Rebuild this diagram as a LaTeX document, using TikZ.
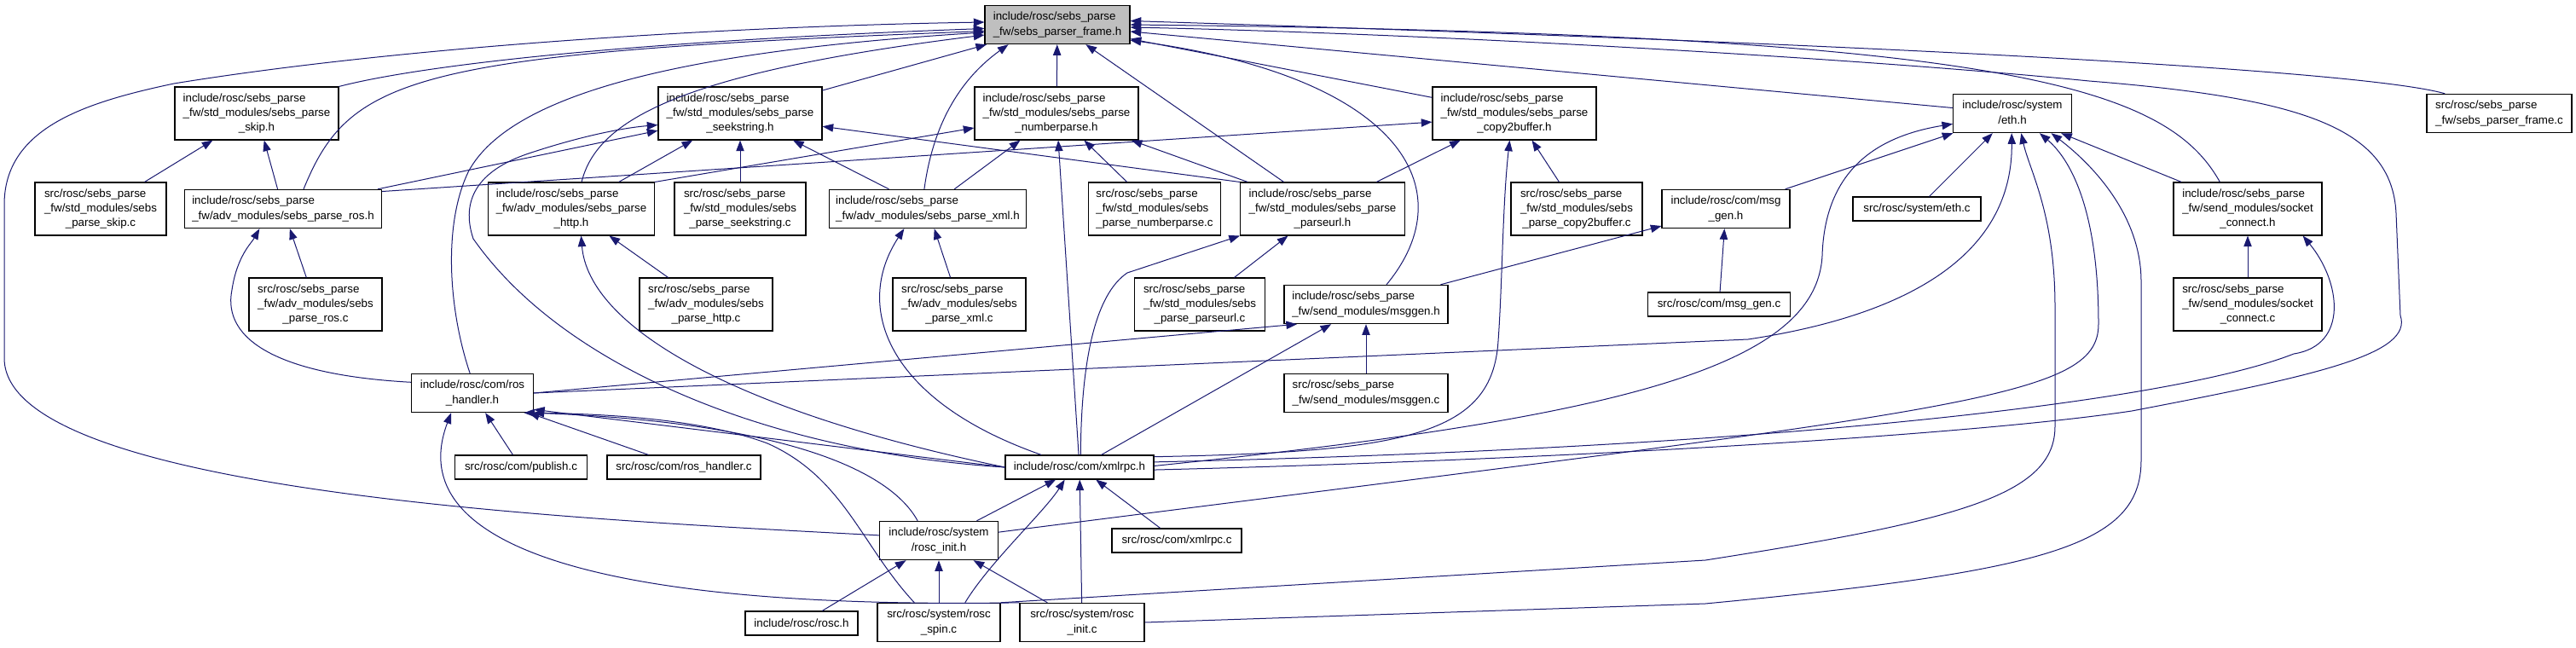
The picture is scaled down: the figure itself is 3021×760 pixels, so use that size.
\documentclass[tikz,border=0pt]{standalone}
\usepackage{fontspec}
\setmainfont{Liberation Sans}
\usepackage{tikz}
\usetikzlibrary{arrows.meta}

\definecolor{edgeblue}{RGB}{25,25,112}
\definecolor{curgray}{RGB}{191,191,191}
\newcommand{\lbltwo}[2]{\begin{tabular}{@{}l@{}}#1\\\multicolumn{1}{@{}c@{}}{#2}\end{tabular}}
\newcommand{\lblthree}[3]{\begin{tabular}{@{}l@{}}#1\\#2\\\multicolumn{1}{@{}c@{}}{#3}\end{tabular}}

\begin{document}
\begin{tikzpicture}[x=0.75pt, y=-0.75pt, >={Triangle[length=9.5pt,width=7pt]},
  file/.style={draw, fill=white, line width=0.8pt, inner sep=0pt, font=\fontsize{10}{13}\selectfont},
  oneline/.style={file, minimum height=21pt},
  twoline/.style={file, minimum height=34pt},
  threeline/.style={file, minimum height=46.5pt},
  dep/.style={->, draw=edgeblue, line width=0.75pt}]
  \useasboundingbox (0,0) rectangle (3021,760);

  % Files
  \node[twoline, fill=curgray, minimum width=127.5pt] (frame) at (1240,29) {\lbltwo{include/rosc/sebs\_parse}{\_fw/sebs\_parser\_frame.h}};

  \node[threeline, minimum width=144pt] (skiph) at (301,133) {\lblthree{include/rosc/sebs\_parse}{\_fw/std\_modules/sebs\_parse}{\_skip.h}};
  \node[threeline, minimum width=144pt] (seekh) at (868,133) {\lblthree{include/rosc/sebs\_parse}{\_fw/std\_modules/sebs\_parse}{\_seekstring.h}};
  \node[threeline, minimum width=144pt] (numh) at (1239,133) {\lblthree{include/rosc/sebs\_parse}{\_fw/std\_modules/sebs\_parse}{\_numberparse.h}};
  \node[threeline, minimum width=144pt] (copyh) at (1776,133) {\lblthree{include/rosc/sebs\_parse}{\_fw/std\_modules/sebs\_parse}{\_copy2buffer.h}};
  \node[twoline, minimum width=104pt] (ethh) at (2360,133) {\lbltwo{include/rosc/system}{/eth.h}};
  \node[twoline, minimum width=127.5pt] (framec) at (2931,133) {\lbltwo{src/rosc/sebs\_parse}{\_fw/sebs\_parser\_frame.c}};

  \node[threeline, minimum width=115.5pt] (skipc) at (118,245) {\lblthree{src/rosc/sebs\_parse}{\_fw/std\_modules/sebs}{\_parse\_skip.c}};
  \node[twoline, minimum width=173.25pt] (rosh) at (332,245) {\lbltwo{include/rosc/sebs\_parse}{\_fw/adv\_modules/sebs\_parse\_ros.h}};
  \node[threeline, minimum width=146pt] (httph) at (670,245) {\lblthree{include/rosc/sebs\_parse}{\_fw/adv\_modules/sebs\_parse}{\_http.h}};
  \node[threeline, minimum width=115.5pt] (seekc) at (868,245) {\lblthree{src/rosc/sebs\_parse}{\_fw/std\_modules/sebs}{\_parse\_seekstring.c}};
  \node[twoline, minimum width=173.25pt] (xmlh) at (1088,245) {\lbltwo{include/rosc/sebs\_parse}{\_fw/adv\_modules/sebs\_parse\_xml.h}};
  \node[threeline, minimum width=116pt] (numc) at (1354,245) {\lblthree{src/rosc/sebs\_parse}{\_fw/std\_modules/sebs}{\_parse\_numberparse.c}};
  \node[threeline, minimum width=144.75pt] (urlh) at (1551,245) {\lblthree{include/rosc/sebs\_parse}{\_fw/std\_modules/sebs\_parse}{\_parseurl.h}};
  \node[threeline, minimum width=115.5pt] (copyc) at (1849,245) {\lblthree{src/rosc/sebs\_parse}{\_fw/std\_modules/sebs}{\_parse\_copy2buffer.c}};
  \node[twoline, minimum width=112.5pt] (msggenh) at (2024,245) {\lbltwo{include/rosc/com/msg}{\_gen.h}};
  \node[oneline, minimum width=112.5pt] (ethc) at (2248,245) {src/rosc/system/eth.c};
  \node[threeline, minimum width=130.5pt] (socketh) at (2636,245) {\lblthree{include/rosc/sebs\_parse}{\_fw/send\_modules/socket}{\_connect.h}};

  \node[threeline, minimum width=117pt] (rosc) at (370,357) {\lblthree{src/rosc/sebs\_parse}{\_fw/adv\_modules/sebs}{\_parse\_ros.c}};
  \node[threeline, minimum width=117pt] (httpc) at (828,357) {\lblthree{src/rosc/sebs\_parse}{\_fw/adv\_modules/sebs}{\_parse\_http.c}};
  \node[threeline, minimum width=117pt] (xmlc) at (1125,357) {\lblthree{src/rosc/sebs\_parse}{\_fw/adv\_modules/sebs}{\_parse\_xml.c}};
  \node[threeline, minimum width=114.75pt] (urlc) at (1407,357) {\lblthree{src/rosc/sebs\_parse}{\_fw/std\_modules/sebs}{\_parse\_parseurl.c}};
  \node[twoline, minimum width=144pt] (msgsendh) at (1602,357) {\lbltwo{include/rosc/sebs\_parse}{\_fw/send\_modules/msggen.h}};
  \node[oneline, minimum width=125.25pt] (msggenc) at (2016,357) {src/rosc/com/msg\_gen.c};
  \node[threeline, minimum width=130.5pt] (socketc) at (2636,357) {\lblthree{src/rosc/sebs\_parse}{\_fw/send\_modules/socket}{\_connect.c}};

  \node[twoline, minimum width=107.25pt] (handlerh) at (554,461) {\lbltwo{include/rosc/com/ros}{\_handler.h}};
  \node[twoline, minimum width=144pt] (msgsendc) at (1602,461) {\lbltwo{src/rosc/sebs\_parse}{\_fw/send\_modules/msggen.c}};

  \node[oneline, minimum width=116.25pt] (publishc) at (611,548) {src/rosc/com/publish.c};
  \node[oneline, minimum width=135pt] (handlerc) at (802,548) {src/rosc/com/ros\_handler.c};
  \node[oneline, minimum width=130.5pt] (xmlrpch) at (1266,548) {include/rosc/com/xmlrpc.h};

  \node[twoline, minimum width=104.25pt] (initRh) at (1101,634) {\lbltwo{include/rosc/system}{/rosc\_init.h}};
  \node[oneline, minimum width=114pt] (xmlrpcc) at (1380,634) {src/rosc/com/xmlrpc.c};

  \node[oneline, minimum width=99pt] (rosch) at (940,731) {include/rosc/rosc.h};
  \node[twoline, minimum width=108pt] (spinc) at (1101,730) {\lbltwo{src/rosc/system/rosc}{\_spin.c}};
  \node[twoline, minimum width=109.5pt] (initc) at (1269,730) {\lbltwo{src/rosc/system/rosc}{\_init.c}};

  % Into sebs_parser_frame.h
  \draw[dep] (skiph.north east) .. controls (480,80) and (700,50) .. (frame.-177);
  \draw[dep] (rosh.44) .. controls (410,90) and (480,62) .. (frame.-175);
  \draw[dep] (httph.69) .. controls (700,140) and (800,85) .. (frame.-172);
  \draw[dep] (handlerh.97) .. controls (525,360) and (520,260) .. (550,200) .. controls (600,110) and (800,60) .. (frame.-174);
  \draw[dep] (initRh.175) .. controls (700,610) and (5,580) .. (5,420) -- (5,240) .. controls (5,150) and (100,120) .. (204,98) .. controls (500,50) and (900,30) .. (frame.178);
  \draw[dep] (seekh) -- (frame);
  \draw[dep] (xmlh.100) .. controls (1095,140) and (1130,90) .. (frame.-158);
  \draw[dep] (numh) -- (frame);
  \draw[dep] (urlh) -- (frame);
  \draw[dep] (msgsendh.44) .. controls (1720,220) and (1640,90) .. (frame.-12);
  \draw[dep] (copyh) -- (frame);
  \draw[dep] (ethh) -- (frame);
  \draw[dep] (socketh.136) .. controls (2540,100) and (2350,40) .. (frame.east);
  \draw[dep] (framec.160) .. controls (2780,85) and (2300,55) .. (frame.3);
  \draw[dep] (xmlrpch.-2) .. controls (1800,540) and (2300,512) .. (2500,482) .. controls (2720,440) and (2830,415) .. (2815,370) -- (2810,250) .. controls (2805,150) and (2700,115) .. (2450,95) .. controls (2200,70) and (1700,40) .. (frame.-2);

  % Parser modules
  \draw[dep] (skipc) -- (skiph);
  \draw[dep] (rosh) -- (skiph);
  \draw[dep] (rosh) -- (seekh);
  \draw[dep] (rosh.10) -- (copyh.-174);
  \draw[dep] (rosc) -- (rosh);
  \draw[dep] (httph) -- (seekh);
  \draw[dep] (httph.north east) -- (numh.-170);
  \draw[dep] (httpc) -- (httph);
  \draw[dep] (seekc) -- (seekh);
  \draw[dep] (xmlh) -- (seekh);
  \draw[dep] (xmlh) -- (numh);
  \draw[dep] (xmlc) -- (xmlh);
  \draw[dep] (numc) -- (numh);
  \draw[dep] (urlh.north west) -- (seekh.-9);
  \draw[dep] (urlh) -- (numh);
  \draw[dep] (urlh) -- (copyh);
  \draw[dep] (urlc) -- (urlh);
  \draw[dep] (copyc) -- (copyh);

  % Messages and eth.h
  \draw[dep] (msgsendh) -- (msggenh);
  \draw[dep] (msgsendc) -- (msgsendh);
  \draw[dep] (msggenc) -- (msggenh);
  \draw[dep] (msggenh) -- (ethh);
  \draw[dep] (ethc) -- (ethh);
  \draw[dep] (socketh) -- (ethh);
  \draw[dep] (socketc) -- (socketh);

  % ros_handler.h
  \draw[dep] (handlerh.170) .. controls (330,440) and (260,400) .. (272,340) .. controls (278,300) and (295,285) .. (rosh.-140);
  \draw[dep] (handlerh.east) -- (msgsendh.-164);
  \draw[dep] (handlerh.east) -- (2050,398) .. controls (2300,360) and (2360,260) .. (ethh.-92);
  \draw[dep] (publishc) -- (handlerh);
  \draw[dep] (handlerc) -- (handlerh);
  \draw[dep] (xmlrpch.west) -- (handlerh.-15);
  \draw[dep] (initRh.137) .. controls (1040,545) and (900,495) .. (handlerh.-18);
  \draw[dep] (spinc.141) .. controls (1010,640) and (990,560) .. (900,520) .. controls (820,490) and (700,485) .. (handlerh.-21);
  \draw[dep] (initc.north west) .. controls (700,715) and (470,640) .. (handlerh.-137);

  % xmlrpc.h
  \draw[dep] (xmlrpch.west) .. controls (900,530) and (660,430) .. (555,280) .. controls (540,235) and (560,200) .. (620,180) .. controls (680,160) and (730,150) .. (seekh.-172);
  \draw[dep] (xmlrpch.west) .. controls (850,480) and (690,380) .. (httph.-70);
  \draw[dep] (xmlrpch.162) .. controls (1040,470) and (1000,360) .. (xmlh.-140);
  \draw[dep] (xmlrpch) -- (numh);
  \draw[dep] (xmlrpch.85) .. controls (1268,420) and (1285,345) .. (1322,320) -- (urlh.south west);
  \draw[dep] (xmlrpch) -- (msgsendh);
  \draw[dep] (xmlrpch.8) .. controls (1650,530) and (1750,510) .. (1757,400) .. controls (1762,330) and (1762,240) .. (copyh.-100);
  \draw[dep] (xmlrpch.4) .. controls (2100,525) and (2550,470) .. (2690,415) .. controls (2755,405) and (2745,330) .. (socketh.-26);
  \draw[dep] (xmlrpch.1) .. controls (1900,490) and (2130,430) .. (2137,300) .. controls (2140,200) and (2200,160) .. (ethh.-170);

  % rosc_init.h and the sources
  \draw[dep] (initRh) -- (xmlrpch);
  \draw[dep] (initRh.8) .. controls (2300,480) and (2461,470) .. (2461,380) .. controls (2461,230) and (2420,180) .. (ethh.-36);
  \draw[dep] (spinc.37) .. controls (1160,660) and (1225,600) .. (xmlrpch.-140);
  \draw[dep] (spinc.north east) -- (2000,657) .. controls (2300,610) and (2410,580) .. (2410,500) -- (2410,360) .. controls (2410,250) and (2380,200) .. (ethh.-66);
  \draw[dep] (initc) -- (xmlrpch);
  \draw[dep] (initc.east) -- (2000,708) .. controls (2400,670) and (2511,640) .. (2511,540) -- (2511,330) .. controls (2511,250) and (2450,190) .. (ethh.-27);
  \draw[dep] (xmlrpcc) -- (xmlrpch);
  \draw[dep] (rosch) -- (initRh);
  \draw[dep] (spinc) -- (initRh);
  \draw[dep] (initc) -- (initRh);
\end{tikzpicture}
\end{document}
